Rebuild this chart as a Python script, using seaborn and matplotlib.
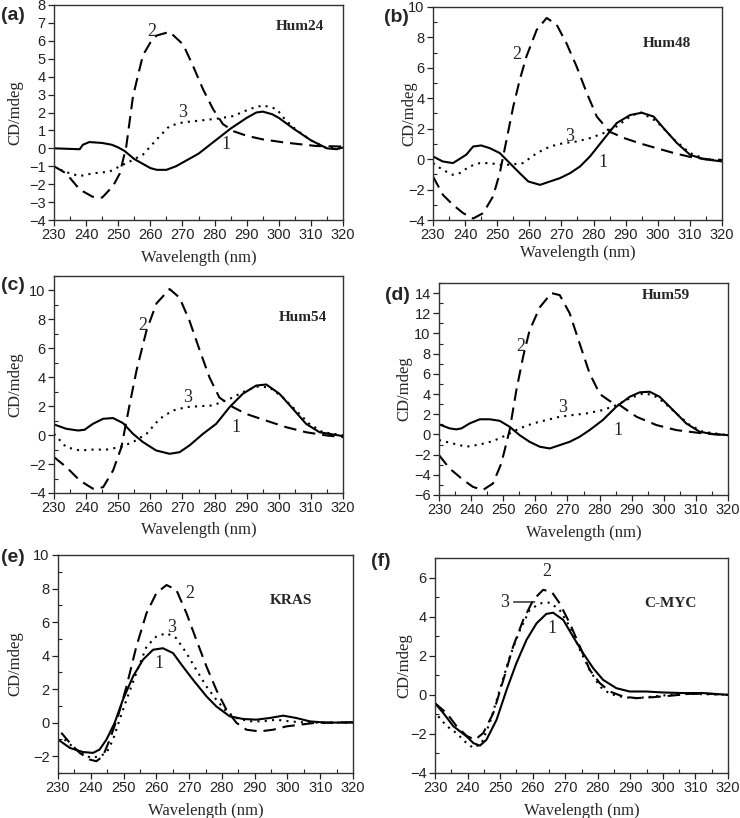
"""CD spectra of G-quadruplex sequences, six panels."""

import matplotlib
matplotlib.use('Agg')
import matplotlib.pyplot as plt
from matplotlib.ticker import MultipleLocator
import pandas as pd
import seaborn as sns

# ---- data ----
# (a) Hum24
A1_WL = [230, 238, 239, 241, 245, 248, 250, 252, 255, 258, 260, 262, 265, 268, 270, 275, 280, 285, 290, 293, 295, 298, 300, 305, 310, 315, 318, 320]
A1_CD = [0.0, -0.05, 0.2, 0.35, 0.3, 0.2, 0.05, -0.15, -0.6, -0.9, -1.1, -1.2, -1.2, -1.0, -0.8, -0.3, 0.4, 1.1, 1.7, 2.0, 2.05, 1.9, 1.7, 1.05, 0.45, 0.0, -0.05, 0.05]
A2_WL = [230, 233.8, 238, 242, 245, 248.4, 250.5, 252.5, 254.6, 256.2, 257.7, 260, 262, 266, 270.2, 273.3, 276.4, 279.5, 282.6, 286, 290, 295, 302, 311.7, 320]
A2_CD = [-1.0, -1.4, -2.3, -2.7, -2.75, -2.1, -1.4, 0.1, 2.9, 4.1, 5.2, 5.9, 6.3, 6.5, 5.8, 4.6, 3.3, 2.2, 1.35, 0.95, 0.7, 0.5, 0.32, 0.13, 0.1]
A3_WL = [232, 235, 238, 242, 247.3, 250.5, 254, 257.7, 262, 266, 270.2, 275.4, 280.6, 285.8, 291, 295.1, 299.3, 302, 305, 310, 315, 320]
A3_CD = [-1.2, -1.4, -1.55, -1.4, -1.3, -1.0, -0.7, -0.35, 0.5, 1.25, 1.45, 1.55, 1.65, 1.8, 2.2, 2.4, 2.2, 1.6, 1.1, 0.45, 0.0, 0.05]

# (b) Hum48
B1_WL = [230, 233, 236.2, 237.8, 240.4, 242.5, 245, 247.7, 250.8, 253.9, 257, 259.7, 263.3, 266.4, 269.5, 272.7, 275.8, 278.9, 283, 287.2, 291.4, 295, 298.7, 301.8, 306, 310.1, 314.3, 320]
B1_CD = [0.18, -0.15, -0.26, -0.05, 0.3, 0.83, 0.9, 0.72, 0.4, -0.26, -0.92, -1.47, -1.69, -1.47, -1.25, -0.92, -0.48, 0.18, 1.27, 2.37, 2.9, 3.05, 2.8, 2.04, 1.05, 0.28, 0.0, -0.15]
B2_WL = [230, 233.1, 236.2, 239.4, 242.5, 245.6, 248.7, 250.8, 252.9, 255, 257, 259.1, 262.3, 265.4, 268.5, 271.6, 274.7, 277.9, 281, 285, 290, 295, 300, 305, 310, 315, 320]
B2_CD = [-1.14, -2.35, -3.0, -3.55, -3.9, -3.55, -2.45, -0.92, 1.27, 3.46, 5.2, 6.75, 8.5, 9.28, 8.84, 7.6, 6.1, 4.34, 2.8, 1.8, 1.35, 1.0, 0.7, 0.4, 0.15, 0.0, -0.05]
B3_WL = [230, 233, 236.2, 238.3, 241.4, 244.6, 247.7, 250.8, 253.9, 258, 262.3, 266.4, 270.6, 274.7, 278.9, 283, 287.2, 291.4, 294.5, 298.7, 301, 305, 310, 315, 320]
B3_CD = [-0.26, -0.7, -1.03, -0.92, -0.48, -0.26, -0.26, -0.37, -0.37, -0.26, 0.39, 0.83, 1.05, 1.16, 1.38, 1.7, 2.15, 2.8, 3.1, 2.6, 2.2, 1.3, 0.4, 0.0, -0.1]

# (c) Hum54
C1_WL = [230, 233.8, 237.5, 239.5, 242.1, 245.3, 248.4, 251.5, 254.6, 257.7, 261.8, 266, 269.1, 272.2, 276.4, 280.5, 284.7, 288.8, 293, 296.1, 300.2, 304.4, 308.5, 312.7, 316.8, 320]
C1_CD = [0.74, 0.44, 0.32, 0.37, 0.78, 1.13, 1.18, 0.83, 0.09, -0.48, -1.06, -1.29, -1.18, -0.71, 0.09, 0.78, 1.94, 2.86, 3.43, 3.5, 2.86, 1.82, 0.78, 0.2, 0.05, -0.07]
C2_WL = [230, 233.8, 238, 242.1, 245.3, 248.4, 251, 253.6, 255.7, 258.8, 261.9, 266, 269.1, 272.2, 275.4, 278.4, 281.5, 285.7, 289.8, 296.1, 302.3, 308.5, 314.8, 320]
C2_CD = [-1.52, -2.2, -3.13, -3.7, -3.6, -2.44, -0.83, 2.17, 4.47, 7.23, 9.1, 10.1, 9.5, 7.9, 5.85, 4.0, 2.6, 1.94, 1.47, 1.0, 0.55, 0.2, -0.02, -0.14]
C3_WL = [230, 233.8, 238, 242, 246.3, 250.5, 254.6, 258.8, 262.9, 267, 271.2, 275.3, 279.4, 284.7, 288.8, 293, 297.1, 301.3, 305.4, 309.5, 313.7, 320]
C3_CD = [0.09, -0.83, -1.06, -1.0, -1.0, -0.83, -0.48, 0.09, 1.13, 1.7, 1.94, 2.0, 2.05, 2.5, 2.97, 3.36, 3.3, 2.6, 1.7, 0.78, 0.2, 0.0]

# (d) Hum59
D1_WL = [230, 233.3, 235.4, 237, 239.6, 242.7, 245.8, 248.9, 252, 255.1, 258.2, 261.4, 264.5, 267.6, 270.7, 273.8, 276.9, 281, 285.2, 289.4, 292.5, 295.6, 298.7, 302.9, 307, 311.2, 315.4, 320]
D1_CD = [1.0, 0.6, 0.5, 0.6, 1.1, 1.5, 1.5, 1.35, 0.76, -0.07, -0.73, -1.22, -1.39, -1.06, -0.73, -0.23, 0.43, 1.42, 2.74, 3.73, 4.17, 4.23, 3.73, 2.41, 1.09, 0.26, 0.03, -0.07]
D2_WL = [230, 233.3, 237.5, 240.6, 243.7, 246.8, 249.4, 252, 254.1, 256.2, 258.2, 261.4, 265, 267.6, 270.7, 273.8, 276.9, 280.1, 283.2, 286.3, 291.5, 297.7, 303.9, 312.2, 320]
D2_CD = [-2.05, -3.37, -4.5, -5.2, -5.5, -4.86, -2.88, 0.43, 4.4, 7.7, 10.3, 12.6, 14.0, 13.8, 12.0, 9.0, 6.05, 4.0, 3.3, 2.9, 1.75, 0.93, 0.43, 0.1, -0.07]
D3_WL = [230, 234.4, 238.5, 242.7, 246.8, 251, 255.1, 259.3, 263.4, 267.6, 271.7, 275.9, 281, 285.2, 289.4, 293.6, 296.7, 299.8, 303.9, 308.1, 312.2, 320]
D3_CD = [-0.56, -0.9, -1.22, -1.0, -0.66, -0.07, 0.6, 1.09, 1.42, 1.75, 1.92, 2.08, 2.41, 2.9, 3.57, 4.07, 3.9, 3.24, 2.08, 0.93, 0.26, -0.07]

# (e) KRAS
E1_WL = [230, 233.6, 237.6, 240.7, 242.7, 244.8, 247.3, 249.8, 252.9, 255.9, 259, 262, 265.1, 268.1, 271.2, 275.3, 278.3, 282.4, 286.5, 290.5, 294.6, 298.7, 302.7, 306.8, 311.9, 320]
E1_CD = [-1.0, -1.5, -1.75, -1.8, -1.6, -1.0, 0.0, 1.37, 2.76, 3.75, 4.35, 4.44, 4.15, 3.35, 2.56, 1.57, 0.97, 0.38, 0.22, 0.18, 0.28, 0.42, 0.28, 0.08, 0.0, 0.02]
E2_WL = [231, 233.6, 236.6, 239.7, 241.7, 243.7, 245.8, 248.3, 250.9, 253.9, 257, 260, 263.1, 266.1, 269.2, 272.2, 275.3, 278.3, 281.4, 284.4, 287.5, 291.5, 295.6, 299.7, 303.8, 308.8, 320]
E2_CD = [-0.6, -1.2, -1.8, -2.2, -2.3, -2.0, -1.0, 0.38, 2.16, 4.54, 6.53, 7.72, 8.21, 7.92, 6.53, 4.94, 3.35, 1.96, 0.77, 0.0, -0.42, -0.52, -0.42, -0.22, -0.12, 0.0, 0.02]
E3_WL = [232, 236, 240, 242.7, 244.8, 246.8, 248.8, 250.9, 253.9, 257, 260, 263.1, 266.1, 269.2, 272.2, 275.3, 278.3, 281.4, 284.4, 288.5, 292.5, 296.6, 300.6, 304.7, 309.8, 320]
E3_CD = [-1.0, -1.7, -2.1, -2.0, -1.8, -1.0, 0.18, 1.37, 2.96, 4.54, 5.14, 5.34, 5.04, 4.15, 3.15, 2.16, 1.37, 0.67, 0.28, 0.08, 0.08, 0.18, 0.08, 0.02, 0.0, 0.0]

# (f) C-MYC
F1_WL = [230, 232.6, 235.6, 237.7, 239.7, 241.8, 243.8, 245.8, 248.9, 252, 255, 258.1, 261.2, 264.2, 266.3, 269.4, 272.4, 275.5, 278.6, 281.6, 285.7, 289.8, 294.9, 300, 306.2, 312.3, 320]
F1_CD = [-0.43, -0.94, -1.6, -1.87, -2.13, -2.47, -2.6, -2.3, -1.28, 0.26, 1.62, 2.81, 3.66, 4.14, 4.2, 3.83, 2.98, 2.13, 1.36, 0.77, 0.34, 0.17, 0.17, 0.12, 0.09, 0.09, 0.0]
F2_WL = [230, 233.6, 236.6, 239.7, 242.3, 244.8, 247.9, 251, 254, 257.1, 260.2, 263.2, 265.8, 268.3, 271.4, 274.5, 277.5, 280.6, 283.7, 287.8, 291.9, 297, 302.1, 308.2, 314.4, 320]
F2_CD = [-0.43, -0.94, -1.6, -2.1, -2.3, -1.96, -0.94, 0.77, 2.47, 3.83, 4.86, 5.37, 5.28, 4.68, 3.66, 2.47, 1.28, 0.6, 0.17, -0.09, -0.17, -0.12, -0.05, 0.05, 0.05, 0.0]
F3_WL = [231, 233.6, 236.6, 239.7, 241.8, 244.3, 246.8, 249.9, 253, 256.1, 259.1, 262.2, 265.3, 268.3, 271.4, 274.5, 277.5, 280.6, 283.7, 287.8, 291.9, 297, 302.1, 308.2, 320]
F3_CD = [-1.1, -1.6, -1.96, -2.47, -2.72, -2.47, -1.45, 0.26, 1.96, 3.32, 4.34, 4.68, 4.72, 4.34, 3.49, 2.3, 1.28, 0.43, 0.05, -0.12, -0.17, -0.09, 0.0, 0.05, 0.0]

PANEL_TAGS = ['(a)', '(b)', '(c)', '(d)', '(e)', '(f)']
PANEL_NAMES = ['Hum24', 'Hum48', 'Hum54', 'Hum59', 'KRAS', 'C-MYC']

# ---- layout (pixel boxes: left, top, right, bottom) ----
W, H = 740, 818
panels = [
    dict(box=(54, 5, 343, 220), ylim=(-4, 8), major=1, minor=None,
         curves=[(A1_WL, A1_CD), (A2_WL, A2_CD), (A3_WL, A3_CD)],
         name_xy=(0.85, 0.90), tag_xy=(1, 16), ylab_x=-0.107, xlab_y=-0.14,
         nums=[('1', 283.7, 0.2), ('2', 260.3, 6.5), ('3', 270.2, 2.0)]),
    dict(box=(433, 7, 722, 220), ylim=(-4, 10), major=2, minor=1,
         curves=[(B1_WL, B1_CD), (B2_WL, B2_CD), (B3_WL, B3_CD)],
         name_xy=(0.81, 0.83), tag_xy=(384, 18), ylab_x=-0.055, xlab_y=-0.117,
         nums=[('1', 283.0, -0.2), ('2', 256.0, 6.86), ('3', 272.7, 1.5)]),
    dict(box=(54, 276, 343, 493), ylim=(-4, 11), major=2, minor=1,
         curves=[(C1_WL, C1_CD), (C2_WL, C2_CD), (C3_WL, C3_CD)],
         name_xy=(0.86, 0.81), tag_xy=(1, 285), ylab_x=-0.107, xlab_y=-0.134,
         nums=[('1', 286.7, 0.55), ('2', 257.7, 7.6), ('3', 271.7, 2.6)]),
    dict(box=(439, 283, 728, 495), ylim=(-6, 15), major=2, minor=1,
         curves=[(D1_WL, D1_CD), (D2_WL, D2_CD), (D3_WL, D3_CD)],
         name_xy=(0.785, 0.94), tag_xy=(385, 296), ylab_x=-0.093, xlab_y=-0.142,
         nums=[('1', 285.8, 0.4), ('2', 255.6, 8.7), ('3', 268.6, 2.7)]),
    dict(box=(58, 555, 353, 773), ylim=(-3, 10), major=2, minor=1,
         curves=[(E1_WL, E1_CD), (E2_WL, E2_CD), (E3_WL, E3_CD)],
         name_xy=(0.79, 0.79), tag_xy=(1, 557), ylab_x=-0.119, xlab_y=-0.138,
         nums=[('1', 260.8, 3.55), ('2', 270.2, 7.7), ('3', 264.6, 5.7)]),
    dict(box=(435, 558, 728, 773), ylim=(-4, 7), major=2, minor=1,
         curves=[(F1_WL, F1_CD), (F2_WL, F2_CD), (F3_WL, F3_CD)],
         name_xy=(0.805, 0.79), tag_xy=(371, 562), ylab_x=-0.078, xlab_y=-0.14,
         nums=[('1', 265.8, 3.4), ('2', 264.3, 6.3), ('3', 251.5, 4.7)]),
]

STYLES = ['-', (0, (6, 3.3)), (0, (1, 2.5))]

sns.set_theme(style='ticks')
plt.rcParams['font.family'] = ['Liberation Sans', 'DejaVu Sans']
SERIF = ['Liberation Serif', 'DejaVu Serif']

fig = plt.figure(figsize=(W / 100, H / 100), dpi=100)

for i, p in enumerate(panels):
    l, t, r, b = p['box']
    ax = fig.add_axes([l / W, 1 - b / H, (r - l) / W, (b - t) / H])

    for k, (wl, cd) in enumerate(p['curves']):
        df = pd.DataFrame({'wl': wl, 'cd': cd})
        sns.lineplot(data=df, x='wl', y='cd', ax=ax, color='black',
                     linewidth=1.5, linestyle=STYLES[k], estimator=None)

    ax.set_xlim(230, 320)
    ax.set_ylim(*p['ylim'])
    ax.xaxis.set_major_locator(MultipleLocator(10))
    ax.xaxis.set_minor_locator(MultipleLocator(5))
    ax.yaxis.set_major_locator(MultipleLocator(p['major']))
    if p['minor']:
        ax.yaxis.set_minor_locator(MultipleLocator(p['minor']))
    ax.tick_params(which='major', direction='out', length=4, width=0.9,
                   labelsize=10.5, pad=2, colors='#222222')
    ax.tick_params(which='minor', direction='in', length=3, width=0.8,
                   colors='#222222')
    for s in ax.spines.values():
        s.set_color('#333333')
        s.set_linewidth(1.0)

    ax.set_xlabel('Wavelength (nm)', family=SERIF, fontsize=12)
    ax.set_ylabel('CD/mdeg', family=SERIF, fontsize=12)
    ax.xaxis.set_label_coords(0.5, p['xlab_y'])
    ax.yaxis.set_label_coords(p['ylab_x'], 0.5)
    ax.xaxis.label.set_va('top')

    ax.text(*p['name_xy'], PANEL_NAMES[i], transform=ax.transAxes,
            family=SERIF, fontweight='bold', fontsize=11, ha='center', va='center')
    for lab, x, y in p['nums']:
        ax.text(x, y, lab, family=SERIF, fontsize=13, ha='center', va='center')
    if i == 5:
        ax.annotate('', xy=(261.5, 4.75), xytext=(253.3, 4.75),
                    arrowprops=dict(arrowstyle='-', color='black', lw=0.9))

    tx, ty = p['tag_xy']
    fig.text(tx / W, 1 - ty / H, PANEL_TAGS[i], fontsize=14, fontweight='bold',
             ha='left', va='center')

fig.savefig('out.png', dpi=100)
